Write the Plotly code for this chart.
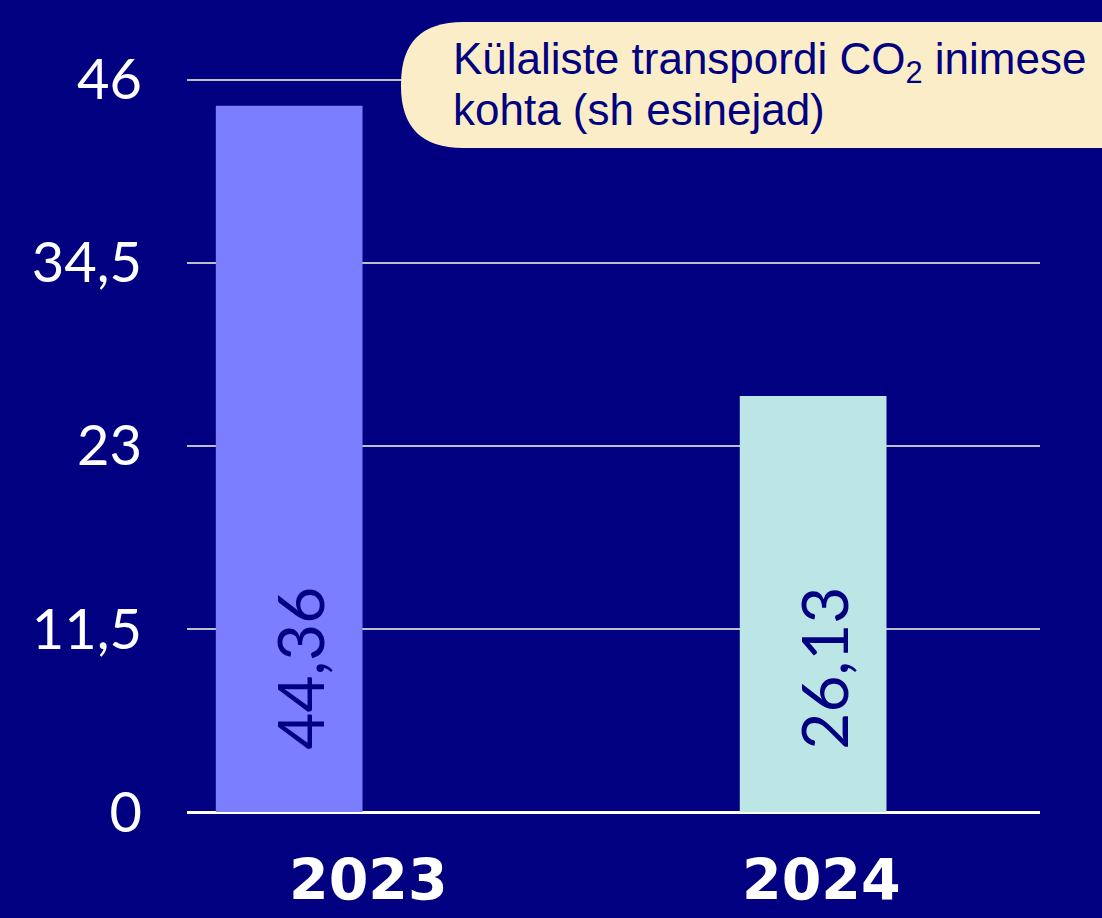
import plotly.graph_objects as go

categories = ["2023", "2024"]
values = [44.36, 26.13]
bar_colors = ["#7B7FFF", "#BCE5E5"]
tick_vals = [0, 11.5, 23, 34.5, 46]
tick_text = ["0", "11,5", "23", "34,5", "46"]
label_lines = ["Külaliste transpordi CO<sub>2</sub> inimese", "kohta (sh esinejad)"]

BG = "#000080"
W, H = 1102, 918
ML, MR, MT, MB = 187, 62, 78, 106
PW, PH = W - ML - MR, H - MT - MB
YMAX = 46.1

def px_x(p):
    return (p - ML) / PW

def px_y(p):
    return (H - MB - p) / PH

fig = go.Figure()
fig.add_trace(go.Bar(
    x=categories, y=values, marker_color=bar_colors, marker_line_width=0,
    width=0.28, hoverinfo="skip",
))

# value labels inside bars (rotated)
for i, v in enumerate(values):
    fig.add_annotation(
        x=i, y=0, xref="x", yref="y", text=f"{v:.2f}".replace(".", ","),
        textangle=-90, showarrow=False, yanchor="bottom", yshift=60, xshift=10,
        font=dict(family="Lato", size=64, color=BG),
    )

# category labels
shifts = [79, 8]
for i, (c, s) in enumerate(zip(categories, shifts)):
    fig.add_annotation(
        x=i, y=0, xref="x", yref="y", text=f"<b>{c}</b>", showarrow=False,
        yanchor="top", yshift=-33, xshift=s,
        font=dict(family="DejaVu Sans", size=57, color="white"),
    )

# label box (rounded)
x0, x1 = 401, 1165
y0, y1 = 22, 148
r = 62
path = (
    f"M {px_x(x0 + r)},{px_y(y0)} L {px_x(x1 - r)},{px_y(y0)} "
    f"Q {px_x(x1)},{px_y(y0)} {px_x(x1)},{px_y(y0 + r)} "
    f"L {px_x(x1)},{px_y(y1 - r)} Q {px_x(x1)},{px_y(y1)} {px_x(x1 - r)},{px_y(y1)} "
    f"L {px_x(x0 + r)},{px_y(y1)} Q {px_x(x0)},{px_y(y1)} {px_x(x0)},{px_y(y1 - r)} "
    f"L {px_x(x0)},{px_y(y0 + r)} Q {px_x(x0)},{px_y(y0)} {px_x(x0 + r)},{px_y(y0)} Z"
)
fig.add_shape(type="path", path=path, xref="paper", yref="paper",
              fillcolor="#FBEDC8", line=dict(width=0), layer="above")

for line, cy in zip(label_lines, [62, 110]):
    fig.add_annotation(
        x=px_x(451), y=px_y(cy), xref="paper", yref="paper", text=line,
        showarrow=False, xanchor="left", yanchor="middle", align="left",
        font=dict(family="Liberation Sans", size=44, color=BG),
    )

fig.update_layout(
    width=W, height=H,
    margin=dict(l=ML, r=MR, t=MT, b=MB),
    paper_bgcolor=BG, plot_bgcolor=BG,
    showlegend=False,
    xaxis=dict(type="category", range=[-0.195, 1.433], showticklabels=False,
               showgrid=False, zeroline=False, showline=False),
    yaxis=dict(range=[0, YMAX], tickvals=tick_vals, ticktext=tick_text,
               showgrid=True, gridcolor="#BEBEC8", gridwidth=2,
               zeroline=True, zerolinecolor="white", zerolinewidth=3,
               ticklabelstandoff=44, showline=False,
               tickfont=dict(family="Lato", size=56, color="white")),
)

fig.write_html("out.html", config={"displayModeBar": False},
               post_script="document.body.style.margin='0';document.body.style.background='%s';" % BG)
